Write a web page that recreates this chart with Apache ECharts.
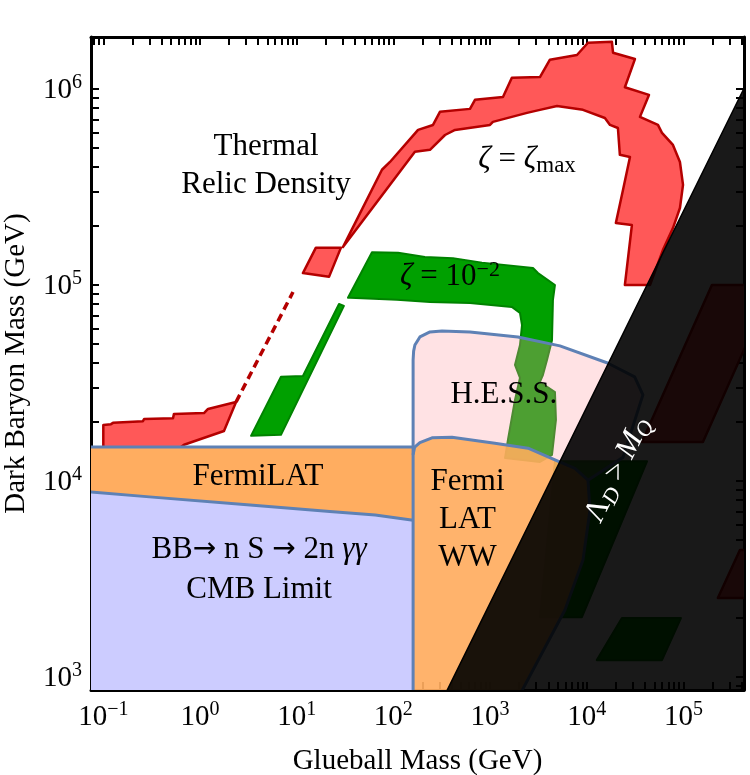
<!DOCTYPE html>
<html><head><meta charset="utf-8">
<script src="https://cdn.jsdelivr.net/npm/echarts@6/dist/echarts.min.js"></script>
<style>html,body{margin:0;padding:0;background:#fff}#c{width:750px;height:775px}</style>
</head><body><div id="c"></div>
<script>
const SERIF = '"Liberation Serif", "Times New Roman", "DejaVu Serif", serif';

// ---- axes (GeV) ----
const xRange = [0.0746, 4.23e5];
const yRange = [859, 1.84e6];
const xMajorTicks = [0.1, 1, 10, 100, 1000, 1e4, 1e5];
const yMajorTicks = [1e3, 1e4, 1e5, 1e6];
const tickMantissas = [2, 3, 4, 5, 6, 7, 8, 9];
const xDecades = [0.01, 0.1, 1, 10, 100, 1000, 1e4, 1e5];
const yDecades = [100, 1e3, 1e4, 1e5, 1e6];

// ---- regions: [glueball mass GeV, dark baryon mass GeV] ----
const cmbBoundary = [[0.05, 8850], [0.0746, 8800], [0.3, 8300], [3.3, 7550], [22, 7000], [65, 6700], [160, 6300]];
const fermiTop = [[0.05, 1.49e4], [160, 1.49e4]];
const wwBoundary = [[160, 700], [160, 1.36e4], [166, 1.49e4], [188, 1.57e4], [251, 1.66e4], [404, 1.67e4], [1120, 1.56e4], [2470, 1.47e4], [4690, 1.28e4], [7550, 1.16e4], [1.03e4, 1.01e4], [1.08e4, 7100], [9140, 3950], [5950, 2200], [1900, 764]];
const hessBoundary = [[160, 1.36e4], [160, 4.14e4], [162, 4.6e4], [167, 4.94e4], [188, 5.43e4], [239, 5.76e4], [318, 5.82e4], [620, 5.76e4], [1940, 5.43e4], [5280, 4.89e4], [1.64e4, 4.0e4], [3.13e4, 3.4e4], [3.81e4, 2.75e4], [2.37e4, 1.32e4], [1.03e4, 1.01e4]];

const redLeft = [[0.1, 1.36e4], [0.1, 1.93e4], [0.12, 1.95e4], [0.126, 1.98e4], [0.257, 2.02e4], [0.264, 2.07e4], [0.526, 2.09e4], [0.538, 2.2e4], [1.10, 2.22e4], [1.21, 2.33e4], [2.36, 2.53e4], [1.77, 1.8e4], [0.684, 1.53e4], [0.49, 1.36e4]];
const redDashed = [[2.36, 2.53e4], [9.16, 9.2e4]];
const redSmall = [[11.6, 1.15e5], [15.8, 1.55e5], [28.7, 1.55e5], [21.6, 1.10e5]];
const redMain = [[30.1, 1.56e5], [76.2, 3.87e5], [92.2, 4.24e5], [180, 6.18e5], [257, 6.55e5], [303, 7.64e5], [620, 7.91e5], [698, 8.8e5], [1360, 9.1e5], [1680, 1.14e6], [3280, 1.15e6], [4160, 1.41e6], [7920, 1.49e6], [1.03e4, 1.72e6], [1.82e4, 1.74e6], [1.87e4, 1.53e6], [3.15e4, 1.42e6], [2.48e4, 1.02e6], [4.4e4, 9.32e5], [3.55e4, 7.2e5], [5.45e4, 6.55e5], [6.0e4, 5.97e5], [7.79e4, 5.18e5], [9.2e4, 4.24e5], [9.9e4, 3.24e5], [9.2e4, 2.47e5], [7.79e4, 1.95e5], [6.14e4, 1.51e5], [5.07e4, 1.17e5], [4.51e4, 1.0e5],
  [2.48e4, 1.0e5], [2.93e4, 2.02e5], [2.0e4, 2.07e5], [2.37e4, 3.05e5], [2.8e4, 4.5e5], [2.2e4, 4.61e5], [2.1e4, 6.32e5], [1.74e4, 6.55e5], [1.54e4, 7.11e5], [9140, 7.82e5], [4920, 8.19e5], [3280, 7.82e5], [2410, 7.55e5], [1070, 6.79e5], [998, 6.55e5], [434, 6.18e5], [342, 5.82e5], [239, 4.89e5], [167, 4.78e5], [33.1, 1.66e5]];
const redHidden1 = [[1.97e5, 1.0e5], [8.4e5, 1.0e5], [1.59e5, 1.58e4], [3.72e4, 1.58e4]];
const redHidden2 = [[2.27e5, 2530], [3.84e5, 4450], [1.6e6, 4450], [1.6e6, 2530]];

const greenLeft = [[3.37, 1.7e4], [6.88, 3.4e4], [11.6, 3.43e4], [27.4, 8.0e4], [30.8, 7.82e4], [6.88, 1.72e4]];
const greenMain = [[33.9, 8.6e4], [60.1, 1.47e5], [112, 1.46e5], [212, 1.39e5], [413, 1.37e5], [824, 1.30e5], [2780, 1.22e5], [3130, 1.15e5], [4690, 1.0e5], [4470, 8.4e4], [4370, 5.23e4], [3880, 4.14e4], [3520, 3.47e4], [3280, 3.2e4], [4690, 2.84e4], [4800, 2.05e4], [4370, 1.36e4], [3280, 1.25e4], [1430, 1.31e4], [1530, 1.62e4], [1810, 2.59e4], [2040, 3.36e4], [1810, 3.91e4], [2040, 4.94e4], [2140, 6.25e4], [2040, 7.19e4], [1680, 7.73e4], [620, 8.09e4], [239, 8.19e4], [109, 8.4e4], [35.6, 8.6e4]];
const greenHidden1 = [[4690, 1.26e4], [4.2e4, 1.26e4], [8910, 2020], [3280, 2020]];
const greenHidden2 = [[2.31e4, 2000], [9.42e4, 2000], [6.0e4, 1220], [1.27e4, 1220]];

const lambdaEdge = [[300, 714], [1e6, 2.38e6]];   // Lambda_D = M_Q boundary

// ---- annotations ----
const labels = [
  {id: 'thermal', text: 'Thermal\nRelic Density', at: [4.82, 4.05e5]},
  {id: 'zmax', text: '{i|ζ} = {i|ζ}{sub|max}', at: [2410, 4.35e5]},
  {id: 'z2', text: '{i|ζ} = 10{sup|−2}', at: [385, 1.1e5]},
  {id: 'hess', text: 'H.E.S.S.', at: [1390, 2.75e4]},
  {id: 'fermi', text: 'FermiLAT', at: [3.98, 1.05e4]},
  {id: 'ww', text: 'Fermi\nLAT\nWW', at: [584, 6.33e3]},
  {id: 'cmb', text: 'BB{ar|→} n S {ar|→} 2n {i|γγ}\nCMB Limit', at: [4.08, 3.52e3]},
  {id: 'lambda', text: '{w|Λ}{wsub|D}{w| > }{wi|M}{wsub|Q}', at: [2.1e4, 1.14e4]}
];

// ---------- build ----------
const lg = Math.log10;
const L = p => [lg(p[0]), lg(p[1])];
const xMinL = lg(xRange[0]), xMaxL = lg(xRange[1]);
const yMinL = lg(yRange[0]), yMaxL = lg(yRange[1]);
function minorTicks(decades, lo, hi) {
  const out = [];
  decades.forEach(d => tickMantissas.forEach(m => { const v = lg(m * d); if (v >= lo && v <= hi) out.push(v); }));
  return out;
}
const xMajorL = xMajorTicks.map(lg), yMajorL = yMajorTicks.map(lg);
const xMinorL = minorTicks(xDecades, xMinL, xMaxL), yMinorL = minorTicks(yDecades, yMinL, yMaxL);

const TICK_RICH = {
  b: {fontFamily: SERIF, fontSize: 29, lineHeight: 32, verticalAlign: 'bottom', color: '#000'},
  s: {fontFamily: SERIF, fontSize: 20, lineHeight: 22, verticalAlign: 'top', color: '#000'}
};
const powLabel = v => { const e = Math.round(v); return '{b|10}{s|' + (e < 0 ? '\u2212' + (-e) : e) + '}'; };

function axis(kind, pos, major, showLine, showLabel, extra) {
  const isX = kind === 'x';
  const ax = {
    type: 'value', position: pos,
    min: isX ? xMinL : yMinL, max: isX ? xMaxL : yMaxL,
    splitLine: {show: false},
    axisLine: {show: showLine, onZero: false, lineStyle: {color: '#000', width: 3}},
    axisTick: {show: true, inside: true, length: 8,
      lineStyle: {color: '#000', width: 2},
      customValues: major ? (isX ? xMajorL : yMajorL) : (isX ? xMinorL : yMinorL)},
    axisLabel: showLabel ? {show: true, customValues: isX ? xMajorL : yMajorL, formatter: powLabel,
      margin: isX ? 10 : 9, rich: TICK_RICH, fontFamily: SERIF, color: '#000'} : {show: false}
  };
  return Object.assign(ax, extra || {});
}
const NAME_STYLE = {fontFamily: SERIF, fontSize: 29, color: '#000'};

function shape(id, pts, style, z, closed) {
  const lp = pts.map(L);
  return {
    type: 'custom', id: id, xAxisIndex: 0, yAxisIndex: 0, z: z, clip: true, silent: true,
    data: lp,
    renderItem: function (params, api) {
      if (params.dataIndex !== 0) return null;
      const points = lp.map(p => api.coord(p));
      return {type: closed === false ? 'polyline' : 'polygon', shape: {points: points}, style: Object.assign({}, style)};
    }
  };
}
const RED = {fill: '#FF5858', stroke: '#B40000', lineWidth: 2.5, lineJoin: 'round'};
const GREEN = {fill: '#00A000', stroke: '#008200', lineWidth: 2, lineJoin: 'round'};
const BLUE_LINE = {fill: 'none', stroke: '#5E81B5', lineWidth: 3, lineJoin: 'round'};

const lavender = [[0.05, 700]].concat(cmbBoundary, [[160, 700]]);
const fermiLeft = cmbBoundary.concat([[160, 1.49e4], [0.05, 1.49e4]]);
const wwTop = wwBoundary.slice(1, 11);
const hessRegion = hessBoundary.concat(wwTop.slice().reverse());
const wwRegion = wwBoundary.concat([[1900, 700]]);
const blackRegion = lambdaEdge.concat([[1e6, 500], [300, 500]]);

const series = [
  shape('redMain', redMain, RED, 1),
  shape('redLeft', redLeft, RED, 1),
  shape('redSmall', redSmall, RED, 1),
  shape('redHidden1', redHidden1, RED, 1),
  shape('redHidden2', redHidden2, RED, 1),
  shape('redDashed', redDashed, {fill: 'none', stroke: '#B40000', lineWidth: 3.5, lineDash: [8, 5]}, 1, false),
  shape('greenMain', greenMain, GREEN, 1),
  shape('greenLeft', greenLeft, GREEN, 1),
  shape('greenHidden1', greenHidden1, GREEN, 1),
  shape('greenHidden2', greenHidden2, GREEN, 1),
  shape('cmb', lavender, {fill: '#CCCCFF'}, 2),
  shape('fermiLeft', fermiLeft, {fill: '#FFAD60'}, 2),
  shape('hess', hessRegion, {fill: 'rgba(255,158,165,0.3)'}, 3),
  shape('ww', wwRegion, {fill: 'rgba(255,173,96,0.92)'}, 4),
  shape('cmbLine', cmbBoundary, BLUE_LINE, 5, false),
  shape('fermiLine', fermiTop, BLUE_LINE, 5, false),
  shape('hessLine', hessBoundary, BLUE_LINE, 5, false),
  shape('wwLine', wwBoundary, BLUE_LINE, 5, false),
  shape('black', blackRegion, {fill: 'rgba(0,0,0,0.9)', stroke: '#000', lineWidth: 1.5}, 6)
];

const LABEL_RICH = {
  i: {fontFamily: SERIF, fontSize: 31, fontStyle: 'italic', fill: '#000', lineHeight: 36, verticalAlign: 'middle'},
  ar: {fontFamily: '"DejaVu Sans", sans-serif', fontSize: 28, fill: '#000', lineHeight: 36, verticalAlign: 'middle'},
  sub: {fontFamily: SERIF, fontSize: 23, fill: '#000', lineHeight: 28, verticalAlign: 'bottom'},
  sup: {fontFamily: SERIF, fontSize: 22, fill: '#000', lineHeight: 20, verticalAlign: 'top'},
  w: {fontFamily: SERIF, fontSize: 31, fill: '#fff', lineHeight: 36, verticalAlign: 'middle'},
  wi: {fontFamily: SERIF, fontSize: 31, fontStyle: 'italic', fill: '#fff', lineHeight: 36, verticalAlign: 'middle'},
  wsub: {fontFamily: SERIF, fontSize: 22, fontStyle: 'italic', fill: '#fff', lineHeight: 30, verticalAlign: 'bottom'}
};
const LABEL_LINE_HEIGHT = {thermal: 38, ww: 38, cmb: 40};
const LABEL_ROTATION = {lambda: 63.7};

series.push({
  type: 'custom', id: 'labels', xAxisIndex: 0, yAxisIndex: 0, z: 10, silent: true,
  data: labels.map(l => L(l.at)),
  renderItem: function (params, api) {
    const l = labels[params.dataIndex];
    const c = api.coord([api.value(0), api.value(1)]);
    return {
      type: 'text', x: c[0], y: c[1],
      rotation: (LABEL_ROTATION[l.id] || 0) * Math.PI / 180,
      style: {text: l.text, fontFamily: SERIF, fontSize: 31, fill: '#000',
        align: 'center', verticalAlign: 'middle', lineHeight: LABEL_LINE_HEIGHT[l.id] || 36, rich: LABEL_RICH}
    };
  }
});

const chart = echarts.init(document.getElementById('c'), null, {renderer: 'canvas'});
chart.setOption({
  animation: false,
  backgroundColor: '#fff',
  textStyle: {fontFamily: SERIF},
  grid: {left: 91, right: 6, top: 37, bottom: 85, containLabel: false, outerBoundsMode: 'none'},
  xAxis: [
    axis('x', 'bottom', true, true, true, {name: 'Glueball Mass (GeV)', nameLocation: 'middle', nameGap: 57, nameTextStyle: NAME_STYLE}),
    axis('x', 'bottom', false, false, false),
    axis('x', 'top', true, true, false),
    axis('x', 'top', false, false, false)
  ],
  yAxis: [
    axis('y', 'left', true, true, true, {name: 'Dark Baryon Mass (GeV)', nameLocation: 'middle', nameGap: 60, nameTextStyle: NAME_STYLE}),
    axis('y', 'left', false, false, false),
    axis('y', 'right', true, true, false),
    axis('y', 'right', false, false, false)
  ],
  series: series
});
</script></body></html>
